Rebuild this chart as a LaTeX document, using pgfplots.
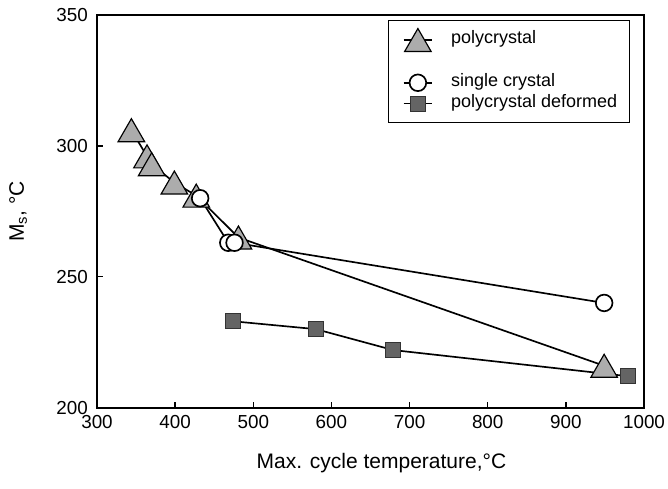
\documentclass[border=0pt]{standalone}
\usepackage{fontspec}
\setmainfont{Liberation Sans}
\usepackage{pgfplots}
\pgfplotsset{compat=1.18}
\definecolor{trifill}{RGB}{172,172,172}
\definecolor{sqfill}{RGB}{100,100,100}
\begin{document}
\begin{tikzpicture}
\useasboundingbox (0,0) rectangle (400.8pt,293.4pt);
\begin{axis}[
  at={(58.2pt,48.8pt)}, anchor=south west,
  scale only axis, width=328.2pt, height=235.6pt,
  xmin=300, xmax=1000, ymin=200, ymax=350,
  xtick={300,400,...,1000}, ytick={200,250,300,350},
  xtick pos=left, ytick pos=left, tick align=inside,
  major tick length=3.5pt,
  axis line style={line width=1.1pt},
  every tick/.style={black, line width=0.8pt},
  /pgf/number format/assume math mode=true,
  /pgf/number format/set thousands separator={},
  tick label style={font=\fontsize{11.3}{13}\selectfont},
  xticklabel style={yshift=-1pt},
  yticklabel style={xshift=-2pt},
  xlabel={Max. cycle temperature,°C},
  ylabel={M\textsubscript{s}, °C},
  every axis x label/.style={at={(axis description cs:0.52,-0.14)}, anchor=center, font=\fontsize{12.6}{15}\selectfont},
  every axis y label/.style={at={(axis description cs:-0.144,0.5)}, rotate=90, anchor=center, font=\fontsize{12.6}{15}\selectfont},
  legend style={at={(axis description cs:0.532,0.988)}, anchor=north west,
    draw=black, line width=0.6pt, font=\fontsize{10.8}{12}\selectfont,
    inner xsep=6.6pt, inner ysep=5pt, row sep=0pt,
    nodes={text height=7.5pt, text depth=3pt, inner sep=1pt}},
  legend cell align=left,
  legend image code/.code={
    \path (-0.07cm,0cm) (0.95cm,0cm);
    \draw[mark repeat=2,mark phase=2] plot coordinates {(0cm,0cm) (0.3cm,0cm) (0.6cm,0cm)};},
]
\addplot[black, line width=1pt, mark=triangle*, mark size=9.2pt,
  mark options={fill=trifill, draw=black, line width=0.7pt, yshift=-2.3pt}]
  coordinates {(344,306) (364,296) (370,293) (399,286) (427,281) (481,265) (949,216)};
\addlegendentry{polycrystal}
\addlegendimage{empty legend}\addlegendentry{}
\addplot[black, line width=1pt, mark=*, mark size=5pt,
  mark options={fill=white, draw=black, line width=1pt}]
  coordinates {(432,280) (468,263) (476,263) (949,240)};
\addlegendentry{single crystal}
\addplot[black, line width=1pt, mark=square*, mark size=4.5pt,
  mark options={fill=sqfill, draw=black!80, line width=0.6pt}]
  coordinates {(474,233) (580,230) (679,222) (980,212)};
\addlegendentry{polycrystal deformed}
\end{axis}
\end{tikzpicture}
\end{document}
